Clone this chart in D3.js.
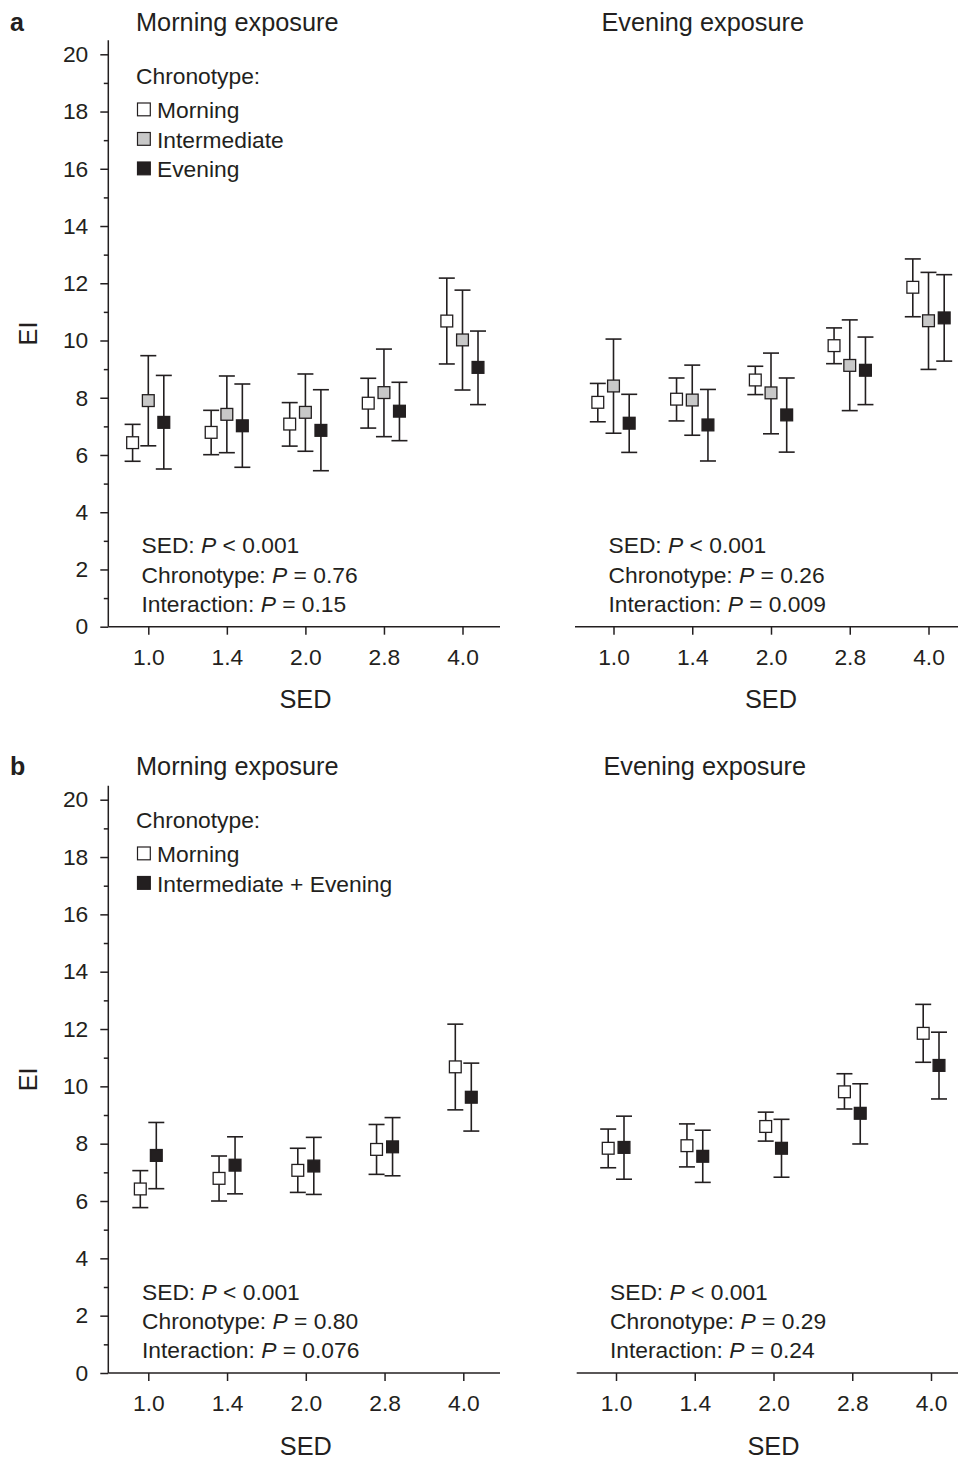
<!DOCTYPE html>
<html><head><meta charset="utf-8">
<script src="https://cdn.jsdelivr.net/npm/d3@7"></script>
<style>
html,body{margin:0;padding:0;background:#fff;}
svg text{font-family:"Liberation Sans",Arial,Helvetica,sans-serif;fill:#231f20;}
</style></head>
<body>
<script>
// ---------- data ----------
const sedLabels = ["1.0","1.4","2.0","2.8","4.0"];
const yTickValues = [0,2,4,6,8,10,12,14,16,18,20];

// Panel a, morning exposure
const aMornMorningMean = [6.43, 6.79, 7.08, 7.81, 10.68];
const aMornMorningLo   = [5.78, 6.01, 6.31, 6.94, 9.18];
const aMornMorningHi   = [7.07, 7.56, 7.83, 8.68, 12.18];
const aMornInterMean   = [7.90, 7.42, 7.49, 8.18, 10.02];
const aMornInterLo     = [6.32, 6.08, 6.13, 6.64, 8.27];
const aMornInterHi     = [9.47, 8.76, 8.83, 9.70, 11.76];
const aMornEveningMean = [7.14, 7.02, 6.86, 7.53, 9.06];
const aMornEveningLo   = [5.51, 5.57, 5.45, 6.50, 7.76];
const aMornEveningHi   = [8.78, 8.48, 8.28, 8.54, 10.33];
// Panel a, evening exposure
const aEveMorningMean = [7.84, 7.95, 8.62, 9.82, 11.86];
const aEveMorningLo   = [7.16, 7.19, 8.11, 9.19, 10.83];
const aEveMorningHi   = [8.50, 8.69, 9.10, 10.44, 12.85];
const aEveInterMean   = [8.41, 7.92, 8.17, 9.13, 10.69];
const aEveInterLo     = [6.76, 6.69, 6.74, 7.55, 8.99];
const aEveInterHi     = [10.05, 9.14, 9.56, 10.72, 12.38];
const aEveEveningMean = [7.11, 7.05, 7.40, 8.96, 10.79];
const aEveEveningLo   = [6.09, 5.79, 6.10, 7.76, 9.28];
const aEveEveningHi   = [8.12, 8.29, 8.69, 10.12, 12.30];
// Panel b, morning exposure
const bMornMorningMean = [6.42, 6.79, 7.07, 7.80, 10.68];
const bMornMorningLo   = [5.77, 6.00, 6.30, 6.93, 9.18];
const bMornMorningHi   = [7.06, 7.57, 7.84, 8.67, 12.17];
const bMornIEMean      = [7.59, 7.25, 7.22, 7.89, 9.62];
const bMornIELo        = [6.43, 6.25, 6.23, 6.88, 8.44];
const bMornIEHi        = [8.74, 8.24, 8.22, 8.91, 10.81];
// Panel b, evening exposure
const bEveMorningMean = [7.84, 7.93, 8.60, 9.81, 11.85];
const bEveMorningLo   = [7.16, 7.19, 8.09, 9.21, 10.84];
const bEveMorningHi   = [8.51, 8.69, 9.10, 10.44, 12.86];
const bEveIEMean      = [7.87, 7.56, 7.84, 9.06, 10.73];
const bEveIELo        = [6.76, 6.65, 6.83, 7.99, 9.56];
const bEveIEHi        = [8.96, 8.47, 8.85, 10.09, 11.89];

const statsAMorn = [["SED: ","P"," < 0.001"],["Chronotype: ","P"," = 0.76"],["Interaction: ","P"," = 0.15"]];
const statsAEve  = [["SED: ","P"," < 0.001"],["Chronotype: ","P"," = 0.26"],["Interaction: ","P"," = 0.009"]];
const statsBMorn = [["SED: ","P"," < 0.001"],["Chronotype: ","P"," = 0.80"],["Interaction: ","P"," = 0.076"]];
const statsBEve  = [["SED: ","P"," < 0.001"],["Chronotype: ","P"," = 0.29"],["Interaction: ","P"," = 0.24"]];

const legendA = ["Morning","Intermediate","Evening"];
const legendB = ["Morning","Intermediate + Evening"];

// ---------- drawing ----------
const INK = "#231f20";
const WHITE = "#ffffff", GRAY = "#c8c8c8", BLACK = "#231f20";
const SMALL = 22.8, BIG = 25.3;

const svg = d3.select("body").append("svg").attr("width",958).attr("height",1458);

function mk(mean, lo, hi){ return mean.map((m,i)=>({sed:sedLabels[i], m, lo:lo[i], hi:hi[i]})); }

function drawPanel(cfg){
  const g = svg.append("g");
  const y = d3.scaleLinear().domain([0,20]).range([cfg.y0, cfg.y20]);
  const x = d3.scalePoint().domain(sedLabels).range(cfg.xr);

  // x axis line
  g.append("line").attr("x1",cfg.axStart).attr("x2",cfg.axEnd)
    .attr("y1",y(0)).attr("y2",y(0)).attr("stroke",INK).attr("stroke-width",1.5);
  // x ticks
  const xa = g.append("g").attr("transform",`translate(0,${y(0)})`)
    .call(d3.axisBottom(x).tickSize(8).tickPadding(14));
  xa.select(".domain").remove();
  xa.selectAll(".tick line").attr("stroke",INK).attr("stroke-width",1.5);
  xa.selectAll(".tick text").attr("font-size",SMALL).attr("fill",INK)
    .attr("font-family","Liberation Sans, Arial, sans-serif");
  // x title
  g.append("text").attr("x",(cfg.xr[0]+cfg.xr[1])/2).attr("y",y(0)+81.5)
    .attr("text-anchor","middle").attr("font-size",BIG).text("SED");

  if(cfg.yAxis){
    g.append("line").attr("x1",cfg.axStart).attr("x2",cfg.axStart)
      .attr("y1",y(0)).attr("y2",y(20)-14).attr("stroke",INK).attr("stroke-width",1.5);
    const ya = g.append("g").attr("transform",`translate(${cfg.axStart},0)`)
      .call(d3.axisLeft(y).tickValues(yTickValues).tickSize(8).tickPadding(12).tickFormat(d3.format("d")));
    ya.select(".domain").remove();
    ya.selectAll(".tick line").attr("stroke",INK).attr("stroke-width",1.5);
    ya.selectAll(".tick text").attr("font-size",SMALL).attr("fill",INK)
      .attr("font-family","Liberation Sans, Arial, sans-serif");
    const ym = g.append("g").attr("transform",`translate(${cfg.axStart},0)`)
      .call(d3.axisLeft(y).tickValues(d3.range(1,20,2)).tickSize(4.5).tickFormat(""));
    ym.select(".domain").remove();
    ym.selectAll(".tick line").attr("stroke",INK).attr("stroke-width",1.5);
    // y title
    g.append("text").attr("transform",`translate(37,${(y(0)+y(20))/2 - 7}) rotate(-90)`)
      .attr("text-anchor","middle").attr("font-size",BIG).text("EI");
  }

  // title
  g.append("text").attr("x",cfg.titleX).attr("y",cfg.titleY).attr("font-size",BIG).text(cfg.title);

  // series
  cfg.series.forEach(s=>{
    const sg = g.append("g");
    const pts = s.data;
    const cx = d => x(d.sed) + s.off;
    sg.selectAll("line.v").data(pts).join("line")
      .attr("x1",cx).attr("x2",cx).attr("y1",d=>y(d.lo)).attr("y2",d=>y(d.hi))
      .attr("stroke",INK).attr("stroke-width",1.6);
    sg.selectAll("line.t").data(pts).join("line")
      .attr("x1",d=>cx(d)-8).attr("x2",d=>cx(d)+8).attr("y1",d=>y(d.hi)).attr("y2",d=>y(d.hi))
      .attr("stroke",INK).attr("stroke-width",1.6);
    sg.selectAll("line.b").data(pts).join("line")
      .attr("x1",d=>cx(d)-8).attr("x2",d=>cx(d)+8).attr("y1",d=>y(d.lo)).attr("y2",d=>y(d.lo))
      .attr("stroke",INK).attr("stroke-width",1.6);
    sg.selectAll("rect").data(pts).join("rect")
      .attr("x",d=>cx(d)-5.9).attr("y",d=>y(d.m)-5.9).attr("width",11.8).attr("height",11.8)
      .attr("fill",s.fill).attr("stroke",INK).attr("stroke-width",1.3);
  });

  // legend
  if(cfg.legend){
    g.append("text").attr("x",136).attr("y",cfg.legendY).attr("font-size",SMALL).text("Chronotype:");
    cfg.legend.forEach((l,i)=>{
      const by = cfg.legendY + 34 + i*29.5;
      g.append("rect").attr("x",137.5).attr("y",by-15).attr("width",12.8).attr("height",12.8)
        .attr("fill",l.fill).attr("stroke",INK).attr("stroke-width",1.2);
      g.append("text").attr("x",157).attr("y",by).attr("font-size",SMALL).text(l.label);
    });
  }

  // stats
  cfg.stats.forEach((row,i)=>{
    const t = g.append("text").attr("x",cfg.statsX).attr("y",y(0)-73.5+i*29.4).attr("font-size",SMALL);
    t.append("tspan").text(row[0]);
    t.append("tspan").attr("font-style","italic").text(row[1]);
    t.append("tspan").text(row[2]);
  });
}

// panel letters
svg.append("text").attr("x",10).attr("y",31).attr("font-size",25).attr("font-weight","bold").text("a");
svg.append("text").attr("x",10).attr("y",775).attr("font-size",25).attr("font-weight","bold").text("b");

drawPanel({
  y0:626.7, y20:54.3, xr:[148.3,462.5], axStart:108.3, axEnd:500, yAxis:true,
  title:"Morning exposure", titleX:136, titleY:31, statsX:141.5, legendY:84,
  legend: legendA.map((l,i)=>({label:l, fill:[WHITE,GRAY,BLACK][i]})),
  series:[
    {off:-15.7, fill:WHITE, data:mk(aMornMorningMean,aMornMorningLo,aMornMorningHi)},
    {off:0, fill:GRAY, data:mk(aMornInterMean,aMornInterLo,aMornInterHi)},
    {off:15.5, fill:BLACK, data:mk(aMornEveningMean,aMornEveningLo,aMornEveningHi)}
  ],
  stats:statsAMorn
});
drawPanel({
  y0:626.7, y20:54.3, xr:[613.5,928.5], axStart:575, axEnd:958, yAxis:false,
  title:"Evening exposure", titleX:601.5, titleY:31, statsX:608.5,
  series:[
    {off:-15.7, fill:WHITE, data:mk(aEveMorningMean,aEveMorningLo,aEveMorningHi)},
    {off:0, fill:GRAY, data:mk(aEveInterMean,aEveInterLo,aEveInterHi)},
    {off:15.7, fill:BLACK, data:mk(aEveEveningMean,aEveEveningLo,aEveEveningHi)}
  ],
  stats:statsAEve
});
drawPanel({
  y0:1373, y20:799.7, xr:[148.3,463.3], axStart:108.3, axEnd:500, yAxis:true,
  title:"Morning exposure", titleX:136, titleY:775, statsX:142, legendY:828,
  legend: legendB.map((l,i)=>({label:l, fill:[WHITE,BLACK][i]})),
  series:[
    {off:-8, fill:WHITE, data:mk(bMornMorningMean,bMornMorningLo,bMornMorningHi)},
    {off:8, fill:BLACK, data:mk(bMornIEMean,bMornIELo,bMornIEHi)}
  ],
  stats:statsBMorn
});
drawPanel({
  y0:1373, y20:799.7, xr:[616,931], axStart:576.7, axEnd:958, yAxis:false,
  title:"Evening exposure", titleX:603.5, titleY:775, statsX:610,
  series:[
    {off:-7.8, fill:WHITE, data:mk(bEveMorningMean,bEveMorningLo,bEveMorningHi)},
    {off:8, fill:BLACK, data:mk(bEveIEMean,bEveIELo,bEveIEHi)}
  ],
  stats:statsBEve
});
</script>
</body></html>
